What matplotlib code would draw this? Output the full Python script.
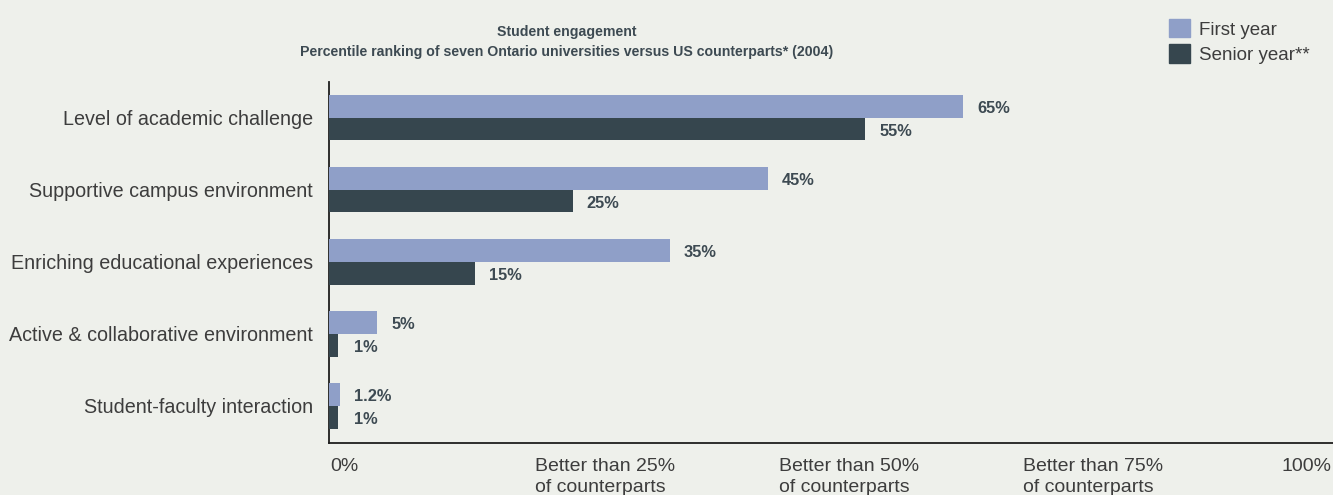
import matplotlib.pyplot as plt
import matplotlib.transforms as mtransforms
from matplotlib.patches import Patch
import numpy as np

categories = ['Level of academic challenge', 'Supportive campus environment',
              'Enriching educational experiences', 'Active & collaborative environment',
              'Student-faculty interaction']
first_year = [65, 45, 35, 5, 1.2]
senior_year = [55, 25, 15, 1, 1]
first_labels = ['65%', '45%', '35%', '5%', '1.2%']
senior_labels = ['55%', '25%', '15%', '1%', '1%']
tick_vals = [0, 25, 50, 75, 100]
tick_text = ['0%', 'Better than 25%\nof counterparts', 'Better than 50%\nof counterparts',
             'Better than 75%\nof counterparts', '100%']

bg = '#eef0eb'
c_first = '#8f9fc8'
c_senior = '#36464e'
txt = '#3d3d3d'
lab = '#3d4a52'

plt.rcParams['font.family'] = ['Liberation Sans', 'DejaVu Sans']

fig = plt.figure(figsize=(13.33, 4.95), dpi=100, facecolor=bg)
ax = fig.add_axes([328.5 / 1333, 52 / 495, 1 - 328.5 / 1333, 361 / 495], facecolor=bg)

y = np.arange(len(categories))
h = 0.315
ax.barh(y - h / 2, first_year, height=h, color=c_first, zorder=3)
ax.barh(y + h / 2, senior_year, height=h, color=c_senior, zorder=3)

# value labels sit a little to the right of the bar end
for i in range(len(categories)):
    ax.annotate(first_labels[i], (max(first_year[i], 1.2), y[i] - h / 2), xytext=(10, -1.5),
                textcoords='offset points', va='center', ha='left', fontsize=11.8,
                fontweight='bold', color=lab)
    ax.annotate(senior_labels[i], (max(senior_year[i], 1.2), y[i] + h / 2), xytext=(10, -1.5),
                textcoords='offset points', va='center', ha='left', fontsize=11.8,
                fontweight='bold', color=lab)

ax.set_xlim(0, 102.9)
ax.set_ylim(4.514, -0.496)

ax.set_yticks(y)
ax.set_yticklabels(categories, fontsize=14.2, color=txt)
ax.tick_params(axis='y', length=0, pad=11)

ax.set_xticks(tick_vals)
ax.set_xticklabels(tick_text, fontsize=14, color=txt, ha='left', va='top', linespacing=1.3)
ax.tick_params(axis='x', length=0, pad=11)
shifts = [2, -38, -38, -38, -23]
for lbl, dx in zip(ax.get_xticklabels(), shifts):
    lbl.set_transform(lbl.get_transform() + mtransforms.ScaledTranslation(dx / 100, 0, fig.dpi_scale_trans))

for s in ['top', 'right']:
    ax.spines[s].set_visible(False)
for s in ['left', 'bottom']:
    ax.spines[s].set_color('#1e1e1e')
    ax.spines[s].set_linewidth(1.3)

fig.text(567 / 1333, 1 - 32 / 495, 'Student engagement', ha='center', va='center',
         fontsize=10.2, fontweight='bold', color=lab)
fig.text(567 / 1333, 1 - 52 / 495,
         'Percentile ranking of seven Ontario universities versus US counterparts* (2004)',
         ha='center', va='center', fontsize=10.2, fontweight='bold', color=lab)

handles = [Patch(color=c_first, label='First year'), Patch(color=c_senior, label='Senior year**')]
fig.legend(handles=handles, loc='upper left', bbox_to_anchor=(1152 / 1333, 1 - 2 / 495),
           frameon=False, fontsize=13.5, handlelength=1.15, handleheight=1.15,
           handletextpad=0.45, labelspacing=0.3, labelcolor=txt)

fig.savefig('out.png', dpi=100, facecolor=bg)
